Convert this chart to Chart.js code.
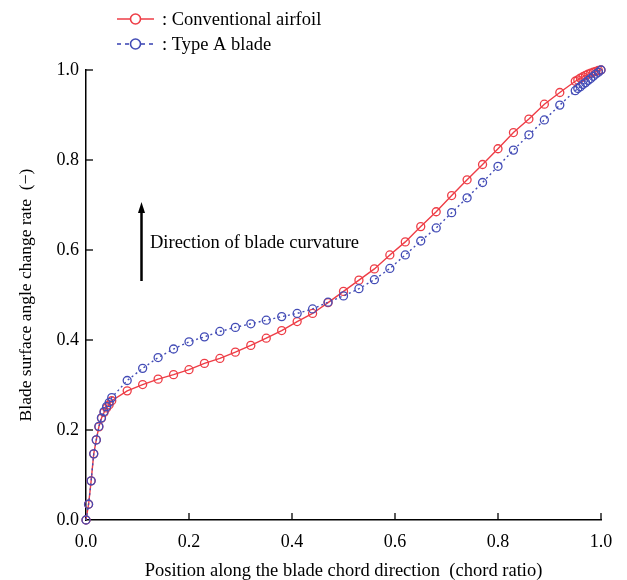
<!DOCTYPE html>
<html>
<head>
<meta charset="utf-8">
<script src="https://cdn.jsdelivr.net/npm/chart.js@4/dist/chart.umd.min.js"></script>
<style>
  html, body { margin:0; padding:0; background:#fff; }
  .wrap { width:627px; height:580px; position:relative; }
</style>
</head>
<body>
<div class="wrap"><canvas id="ch"></canvas></div>
<script>
// chord positions (same for both curves)
const chordPos = [0, 0.005, 0.01, 0.015, 0.02, 0.025, 0.03, 0.035, 0.04, 0.045, 0.05,
  0.08, 0.11, 0.14, 0.17, 0.2, 0.23, 0.26, 0.29, 0.32, 0.35, 0.38, 0.41, 0.44, 0.47,
  0.5, 0.53, 0.56, 0.59, 0.62, 0.65, 0.68, 0.71, 0.74, 0.77, 0.8, 0.83, 0.86, 0.89, 0.92,
  0.95, 0.955, 0.96, 0.965, 0.97, 0.975, 0.98, 0.985, 0.99, 0.995, 1.0];

const conventional = [0, 0.035, 0.087, 0.147, 0.178, 0.207, 0.226, 0.239, 0.249, 0.256, 0.265,
  0.287, 0.301, 0.313, 0.323, 0.334, 0.348, 0.359, 0.373, 0.388, 0.404, 0.421, 0.441, 0.459, 0.483,
  0.508, 0.533, 0.558, 0.589, 0.618, 0.652, 0.685, 0.721, 0.756, 0.79, 0.825, 0.861, 0.891, 0.924, 0.95,
  0.975, 0.978, 0.982, 0.985, 0.988, 0.991, 0.993, 0.995, 0.997, 0.999, 1.0];

const typeA = [0, 0.035, 0.087, 0.147, 0.178, 0.208, 0.227, 0.241, 0.252, 0.261, 0.272,
  0.31, 0.337, 0.361, 0.38, 0.396, 0.407, 0.419, 0.428, 0.436, 0.444, 0.452, 0.459, 0.469, 0.484,
  0.498, 0.514, 0.534, 0.559, 0.589, 0.62, 0.649, 0.683, 0.716, 0.75, 0.786, 0.822, 0.856, 0.889, 0.922,
  0.954, 0.959, 0.963, 0.968, 0.972, 0.977, 0.981, 0.986, 0.991, 0.995, 1.0];

const tickVals = [0, 0.2, 0.4, 0.6, 0.8, 1.0];
const RED = '#ee3d46';
const BLUE = '#434cb6';
const SERIF = '"Liberation Serif", "DejaVu Serif", serif';

const toPts = (ys) => chordPos.map((x, i) => ({ x: x, y: ys[i] }));

// inward tick marks, legend and curvature note
const extras = {
  id: 'extras',
  afterDraw(chart) {
    const c = chart.ctx, xs = chart.scales.x, ys = chart.scales.y;
    const a = chart.chartArea;
    c.save();
    c.strokeStyle = '#000'; c.lineWidth = 1.3;
    tickVals.forEach(v => {
      if (v > 0) {
        const px = xs.getPixelForValue(v);
        c.beginPath(); c.moveTo(px, a.bottom); c.lineTo(px, a.bottom - 7); c.stroke();
        const py = ys.getPixelForValue(v);
        c.beginPath(); c.moveTo(a.left, py); c.lineTo(a.left + 7, py); c.stroke();
      }
    });

    // legend
    const rows = [
      { y: 19, color: RED, dash: [], label: ': Conventional airfoil' },
      { y: 44, color: BLUE, dash: [4, 4], label: ': Type A blade' }
    ];
    rows.forEach(r => {
      c.strokeStyle = r.color; c.lineWidth = 1.6; c.setLineDash(r.dash);
      c.beginPath(); c.moveTo(117, r.y); c.lineTo(154, r.y); c.stroke();
      c.setLineDash([]);
      c.fillStyle = '#fff';
      c.beginPath(); c.arc(135.5, r.y, 5, 0, Math.PI * 2); c.fill(); c.stroke();
      c.fillStyle = '#000'; c.font = '18.5px ' + SERIF;
      c.textAlign = 'left'; c.textBaseline = 'middle';
      c.fillText(r.label, 162, r.y + 1);
    });

    // arrow
    c.strokeStyle = '#000'; c.fillStyle = '#000'; c.lineWidth = 2.5;
    c.beginPath(); c.moveTo(141.5, 281); c.lineTo(141.5, 210); c.stroke();
    c.beginPath(); c.moveTo(141.5, 202); c.lineTo(138, 213); c.lineTo(145, 213); c.closePath(); c.fill();
    c.font = '18.5px ' + SERIF; c.textAlign = 'left'; c.textBaseline = 'middle';
    c.fillText('Direction of blade curvature', 150, 243);
    c.restore();
  }
};

new Chart(document.getElementById('ch').getContext('2d'), {
  type: 'line',
  data: {
    datasets: [
      { label: 'Conventional airfoil', data: toPts(conventional), borderColor: RED, backgroundColor: 'rgba(0,0,0,0)',
        borderWidth: 1.4, pointRadius: 4, pointBorderWidth: 1.3, pointBorderColor: RED, pointBackgroundColor: 'rgba(0,0,0,0)',
        tension: 0, order: 1, clip: false },
      { label: 'Type A blade', data: toPts(typeA), borderColor: BLUE, backgroundColor: 'rgba(0,0,0,0)',
        borderWidth: 1.4, borderDash: [2, 3], pointRadius: 4, pointBorderWidth: 1.3, pointBorderColor: BLUE,
        pointBackgroundColor: 'rgba(0,0,0,0)', tension: 0, order: 0, clip: false }
    ]
  },
  options: {
    responsive: true, maintainAspectRatio: false, animation: false,
    layout: { padding: { top: 70, right: 26, left: 0, bottom: 0 } },
    plugins: { legend: { display: false }, tooltip: { enabled: false } },
    scales: {
      x: {
        type: 'linear', min: 0, max: 1,
        afterFit: (s) => { s.height = 60; },
        afterBuildTicks: (s) => { s.ticks = tickVals.map(v => ({ value: v })); },
        grid: { display: false, drawTicks: false },
        border: { display: true, color: '#000', width: 1.5 },
        ticks: { color: '#000', font: { family: SERIF, size: 18 }, padding: 11, maxRotation: 0,
          callback: (v) => Number(v).toFixed(1) },
        title: { display: true, text: 'Position along the blade chord direction  (chord ratio)',
          color: '#000', font: { family: SERIF, size: 18.5, lineHeight: 1 }, padding: { top: 0, bottom: 0 } }
      },
      y: {
        type: 'linear', min: 0, max: 1,
        afterFit: (s) => { s.width = 86; },
        afterBuildTicks: (s) => { s.ticks = tickVals.map(v => ({ value: v })); },
        grid: { display: false, drawTicks: false },
        border: { display: true, color: '#000', width: 1.5 },
        ticks: { color: '#000', font: { family: SERIF, size: 18 }, padding: 7,
          callback: (v) => Number(v).toFixed(1) },
        title: { display: true, text: 'Blade surface angle change rate  (\u2212)',
          color: '#000', font: { family: SERIF, size: 17.5, lineHeight: 1 }, padding: { top: 18, bottom: 0 } }
      }
    }
  },
  plugins: [extras]
});
</script>
</body>
</html>
